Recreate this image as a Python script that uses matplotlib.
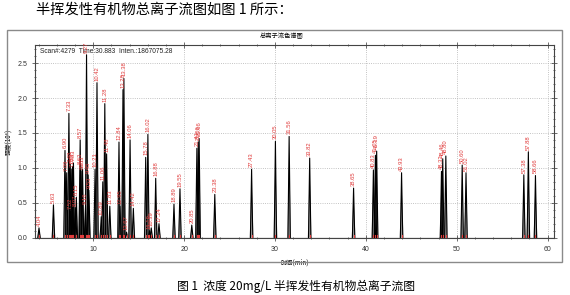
import numpy as np
import matplotlib.pyplot as plt
from matplotlib.patches import Rectangle
from matplotlib.ticker import MultipleLocator

plt.rcParams['font.family'] = ['Liberation Sans', 'Noto Sans CJK SC', 'DejaVu Sans']
CJK = ['Noto Sans CJK SC', 'DejaVu Sans']

# retention time (min) and peak height (x10^6)
times = [4.04, 5.63, 6.90, 7.09, 7.33, 7.48, 7.52, 7.65, 7.73, 7.83,
         8.07, 8.15, 8.57, 8.63, 8.77, 8.83, 9.16, 9.27, 9.45, 9.53,
         10.21, 10.42, 10.89, 11.06, 11.28, 11.48, 11.83, 12.84, 12.95, 13.28,
         13.38, 13.67, 14.06, 14.42, 15.78, 16.02, 16.19, 16.39, 16.88, 17.24,
         18.89, 19.55, 20.85, 21.41, 21.56, 21.66, 23.38, 27.43, 30.05, 31.56,
         33.82, 38.65, 40.83, 41.05, 41.19, 43.93, 48.32, 48.46, 48.80, 50.60,
         51.02, 57.38, 57.88, 58.66]
heights = [0.14, 0.47, 1.25, 0.93, 1.78, 1.05, 0.38, 0.98, 1.02, 1.07,
           0.43, 0.58, 1.40, 1.03, 0.95, 0.98, 0.45, 2.62, 0.90, 0.68,
           0.98, 2.22, 0.30, 0.80, 1.92, 1.20, 0.45, 1.37, 0.45, 2.12,
           2.28, 0.08, 1.40, 0.42, 1.15, 1.48, 0.10, 0.14, 0.85, 0.20,
           0.48, 0.70, 0.18, 1.28, 1.37, 1.42, 0.62, 0.98, 1.38, 1.45,
           1.14, 0.71, 0.97, 1.18, 1.24, 0.93, 0.95, 1.13, 1.17, 1.04,
           0.93, 0.90, 1.23, 0.89]

heading = '半挥发性有机物总离子流图如图 1 所示：'
caption = '图 1  浓度 20mg/L 半挥发性有机物总离子流图'
chart_title = '总离子流色谱图'
scan_info = 'Scan#:4279  Time:30.883  Inten.:1867075.28'

fig = plt.figure(figsize=(5.70, 2.95), dpi=100)
fig.patch.set_facecolor('white')

# frame around the chart
fig.patches.append(Rectangle((7 / 570, 1 - 262 / 295), 555 / 570, 232 / 295,
                             transform=fig.transFigure, fill=False,
                             edgecolor='#8a8a8a', linewidth=1.0))

fig.text(36 / 570, 1 - 10 / 295, heading, family=CJK, fontsize=10.3,
         va='center', ha='left')
fig.text(296 / 570, 1 - 286 / 295, caption, family=CJK, fontsize=8.5,
         va='center', ha='center')
fig.text(282 / 570, 1 - 36 / 295, chart_title, family=CJK, fontsize=4.5,
         va='center', ha='center')

ax = fig.add_axes([35 / 570, 1 - 238 / 295, 519 / 570, 193 / 295])
ax.set_xlim(3.6, 60.7)
ax.set_ylim(-0.005, 2.76)

hw = 0.13
for t, h in zip(times, heights):
    ax.fill([t - 1.6 * hw, t, t + 1.6 * hw], [0, h * 0.85, 0],
            color='#9a9a9a', linewidth=0, zorder=2)
    ax.plot([t - hw, t, t + hw], [0, h, 0], color='black', linewidth=0.8, zorder=3)
    ax.plot([t, t], [0, 0.04], color='#e03c3c', linewidth=0.8, zorder=4)
    ax.text(t, h + 0.03, f'{t:.2f}', rotation=90, color='#e03c3c',
            fontsize=4.2, ha='center', va='bottom', zorder=5)

ax.axhline(0, color='black', linewidth=0.8, zorder=3)

ax.xaxis.set_major_locator(MultipleLocator(10))
ax.xaxis.set_minor_locator(MultipleLocator(2))
ax.yaxis.set_major_locator(MultipleLocator(0.5))
ax.yaxis.set_minor_locator(MultipleLocator(0.1))
ax.tick_params(which='both', direction='inout', top=True, right=True,
               labelsize=5, width=0.5, colors='#333333')
ax.tick_params(which='major', length=4)
ax.tick_params(which='minor', length=2)
ax.set_yticklabels([f'{v:.1f}' for v in ax.get_yticks()])
ax.grid(True, which='major', linestyle=':', color='#b0b0b0', linewidth=0.6)
for s in ax.spines.values():
    s.set_linewidth(0.8)
    s.set_color('#444444')

ax.set_xlabel('时间(min)', family=CJK, fontsize=4.5, labelpad=4)
ax.set_ylabel('强度(10⁶)', family=CJK, fontsize=4.5, labelpad=3)
ax.text(0.01, 0.985, scan_info, transform=ax.transAxes, fontsize=4.8,
        va='top', ha='left', color='#222222')

fig.savefig('out.png', dpi=100)
